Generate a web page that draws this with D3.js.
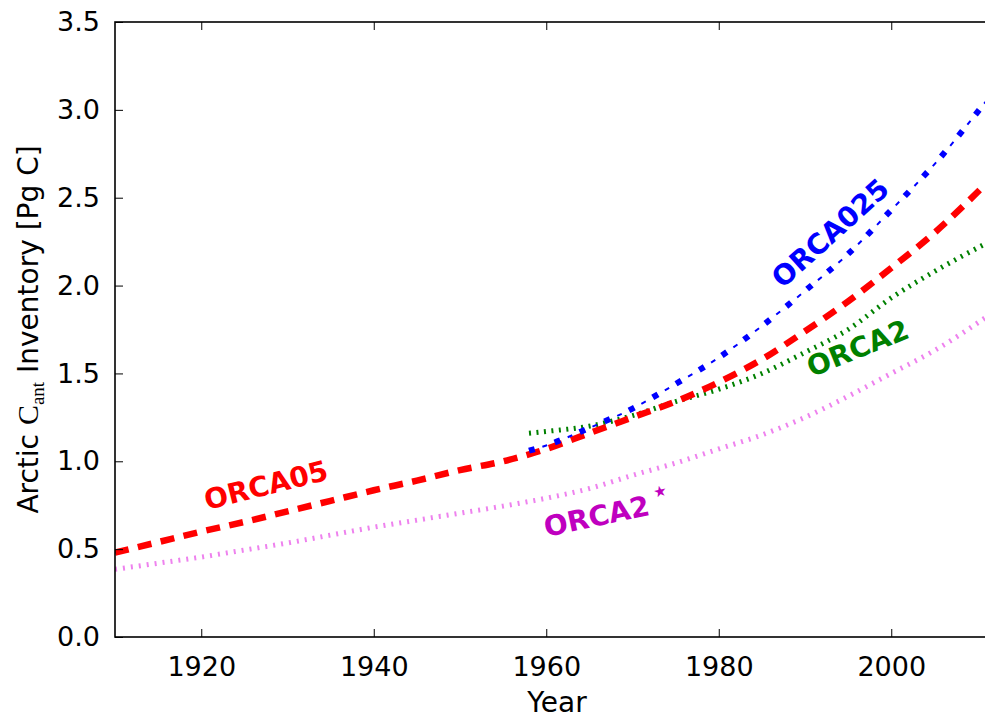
<!DOCTYPE html>
<html><head><meta charset="utf-8">
<script src="https://cdn.jsdelivr.net/npm/d3@7"></script>
<style>
html,body{margin:0;padding:0;background:#fff;overflow:hidden;}
svg{display:block;font-family:"DejaVu Sans",sans-serif;}
</style></head>
<body>
<svg id="chart" width="985" height="723"></svg>
<script>
// ---- data ----
const yearsFull = [1910,1915,1920,1925,1930,1935,1940,1945,1950,1955,1960,1965,1970,1975,1980,1985,1990,1995,2000,2005,2011];
const orca05 = [0.48,0.54,0.60,0.655,0.715,0.775,0.835,0.89,0.95,1.00,1.07,1.16,1.25,1.34,1.45,1.58,1.74,1.91,2.10,2.30,2.58];
const orca2star = [0.385,0.42,0.455,0.495,0.535,0.58,0.625,0.665,0.705,0.745,0.79,0.845,0.92,0.99,1.07,1.15,1.25,1.37,1.50,1.63,1.82];
const yearsShort = [1958,1960,1965,1970,1975,1980,1985,1990,1995,2000,2005,2011];
const orca025 = [1.06,1.09,1.19,1.30,1.44,1.59,1.77,1.97,2.18,2.43,2.69,3.05];
const orca2 = [1.16,1.17,1.20,1.26,1.34,1.41,1.50,1.62,1.75,1.93,2.08,2.24];
const xTicks = [1920,1940,1960,1980,2000];
const yTicks = [0.0,0.5,1.0,1.5,2.0,2.5,3.0,3.5];
const labelNames = ["ORCA05","ORCA025","ORCA2","ORCA2"];
const labelYears = [1927.5,1992.9,1996.1,1967.0];
const labelValues = [0.865,2.30,1.645,0.70];

// ---- layout ----
const L = 115, T = 22, B = 637;
const pxPerYear = 8.625;
const R = L + (2015 - 1910) * pxPerYear;
const svg = d3.select("#chart");
const x = d3.scaleLinear().domain([1910, 2015]).range([L, R]);
const y = d3.scaleLinear().domain([0, 3.5]).range([B, T]);

svg.append("defs").append("clipPath").attr("id","clip")
  .append("rect").attr("x",L).attr("y",T).attr("width",R-L).attr("height",B-T);

const line = d3.line().x(d=>x(d[0])).y(d=>y(d[1])).curve(d3.curveMonotoneX);
const g = svg.append("g").attr("clip-path","url(#clip)");

function addPath(years, vals, color, width, dash){
  g.append("path").datum(years.map((yr,i)=>[yr, vals[i]]))
   .attr("d", line).attr("fill","none").attr("stroke",color)
   .attr("stroke-width",width).attr("stroke-dasharray",dash)
   .attr("stroke-linecap","butt");
}
addPath(yearsFull, orca2star, "#EE82EE", 5, "2,6");
addPath(yearsShort, orca2, "#008000", 5, "2,5.5");
addPath(yearsFull, orca05, "#FF0000", 6.5, "14,9.5");
addPath(yearsShort, orca025, "#0000FF", 6, "6,21");
addPath(yearsShort, orca025, "#0000FF", 2, "0,14,5,8");

// ---- axes ----
const fs = 27;
const xAxis = d3.axisBottom(x).tickValues(xTicks).tickFormat(d3.format("d"))
  .tickSizeInner(-8).tickSizeOuter(0).tickPadding(20);
const yAxis = d3.axisLeft(y).tickValues(yTicks).tickFormat(d3.format(".1f"))
  .tickSizeInner(-8).tickSizeOuter(0).tickPadding(15);
const gx = svg.append("g").attr("transform",`translate(0,${B})`).call(xAxis);
const gy = svg.append("g").attr("transform",`translate(${L},0)`).call(yAxis);
const gxt = svg.append("g").attr("transform",`translate(0,${T})`)
  .call(d3.axisTop(x).tickValues(xTicks).tickSizeInner(-8).tickSizeOuter(0).tickFormat(""));
const gyr = svg.append("g").attr("transform",`translate(${R},0)`)
  .call(d3.axisRight(y).tickValues(yTicks).tickSizeInner(-8).tickSizeOuter(0).tickFormat(""));
[gx,gy,gxt,gyr].forEach(a=>{
  a.select(".domain").remove();
  a.selectAll(".tick line").attr("stroke","#000").attr("stroke-width",1);
  a.selectAll("text").attr("font-size",fs).attr("font-family","DejaVu Sans").attr("fill","#000");
});
svg.append("rect").attr("x",L).attr("y",T).attr("width",R-L).attr("height",B-T)
  .attr("fill","none").attr("stroke","#000").attr("stroke-width",1.6);

// axis titles
svg.append("text").attr("x", 557).attr("y", 712).attr("text-anchor","middle")
  .attr("font-size",28).text("Year");
const yl = svg.append("text").attr("transform",`translate(38,${(T+B)/2}) rotate(-90)`)
  .attr("text-anchor","middle").attr("font-size",28);
yl.append("tspan").text("Arctic ");
yl.append("tspan").attr("font-family","Liberation Serif, DejaVu Serif, serif").attr("font-size",30).text("C");
yl.append("tspan").attr("font-family","Liberation Serif, DejaVu Serif, serif").attr("font-size",19).attr("dy",6).text("ant");
yl.append("tspan").attr("dy",-6).text(" Inventory [Pg C]");

// ---- line labels ----
const labelColors = ["#FF0000","#0000FF","#008000","#BF00BF"];
const labelAngles = [-14,-42,-22,-12];
labelNames.forEach((name,i)=>{
  const t = svg.append("text")
    .attr("transform",`translate(${x(labelYears[i])},${y(labelValues[i])}) rotate(${labelAngles[i]})`)
    .attr("text-anchor","middle").attr("dominant-baseline","central")
    .attr("font-size",28).attr("font-weight","bold").attr("fill",labelColors[i]);
  t.append("tspan").text(name);
  if(i===3){
    t.append("tspan").attr("font-size",15).attr("dx",7).attr("dy",-11).text("★");
  }
});
</script>
</body></html>
